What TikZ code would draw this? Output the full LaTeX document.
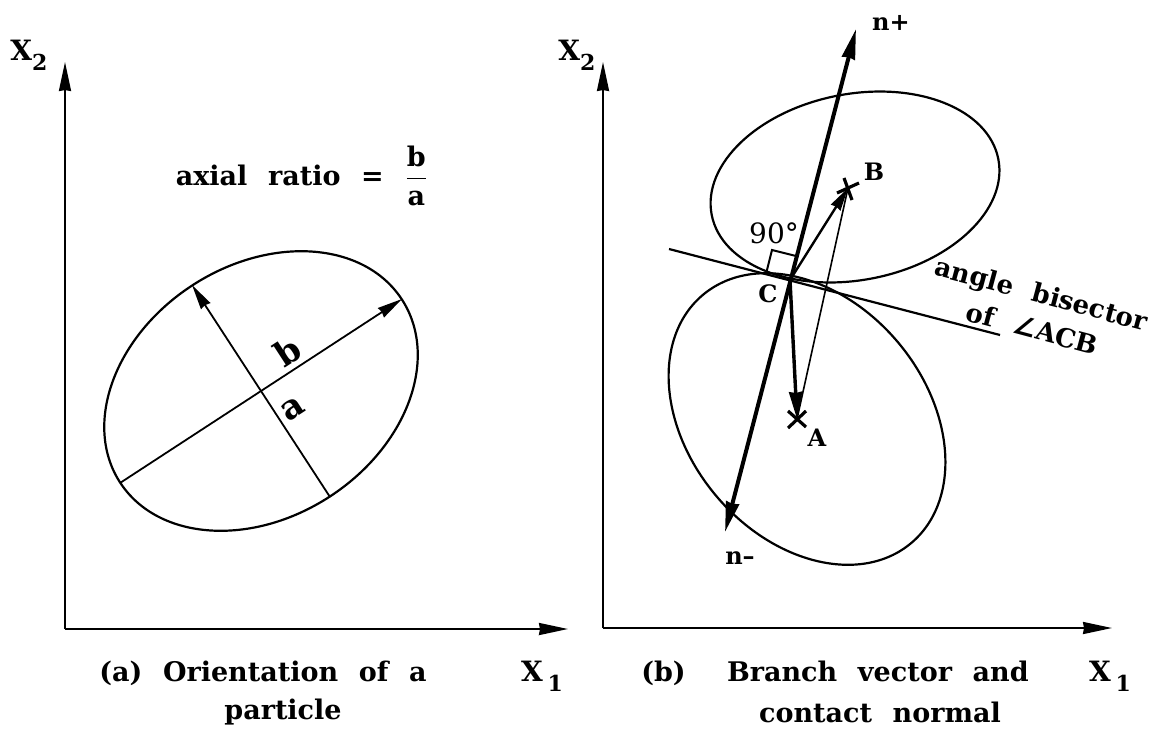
\documentclass[tikz,border=0pt]{standalone}
\usepackage{fontspec}
\usepackage{amsmath}
\usetikzlibrary{arrows.meta,calc}
\newfontfamily\figfont[WordSpace=2.2]{DejaVu Serif}
\newfontfamily\symfont{DejaVu Sans}

\begin{document}
\begin{tikzpicture}[x=0.5pt,y=-0.5pt,
  axis/.style={line width=1pt,-{Stealth[length=14.5pt,width=6pt,inset=0.5pt]}},
  grain/.style={line width=1.1pt},
  semiaxis/.style={line width=0.9pt,-{Stealth[length=12.5pt,width=5.5pt,inset=0.5pt]}},
  normal/.style={line width=2pt,
    {Stealth[length=15pt,width=6.5pt,inset=0.5pt]}-{Stealth[length=15pt,width=6.5pt,inset=0.5pt]}},
  toA/.style={line width=1.7pt,-{Stealth[length=13.5pt,width=6.5pt,inset=0.5pt]}},
  toB/.style={line width=1.2pt,-{Stealth[length=11.5pt,width=5.5pt,inset=0.5pt]}},
  thinline/.style={line width=0.8pt},
  crossmark/.style={line width=1.6pt},
  lbl/.style={inner sep=0pt,font=\figfont\bfseries\fontsize{13.5pt}{16pt}\selectfont},
  small/.style={inner sep=0pt,font=\figfont\bfseries\fontsize{12pt}{14pt}\selectfont},
  axlbl/.style={inner sep=0pt,font=\figfont\bfseries\fontsize{14pt}{16pt}\selectfont},
  semilbl/.style={inner sep=0pt,font=\figfont\bfseries\fontsize{17pt}{17pt}\selectfont}
]
\fill[white] (0,0) rectangle (1154,728);
\useasboundingbox (0,0) rectangle (1154,728);

% (a) orientation of a particle
\coordinate (oa) at (65,629);
\coordinate (ya) at (65,62);
\coordinate (xa) at (568,629);
\draw[axis] (oa) -- (ya);
\draw[axis] (oa) -- (xa);
\node[axlbl] (lblYa) at (29,55) {X\raisebox{-5pt}{\fontsize{11pt}{11pt}\selectfont 2}};
\node[axlbl] (lblXa) at (542,676) {X\,\raisebox{-5pt}{\fontsize{11pt}{11pt}\selectfont 1}};

\node[lbl] (ratio) at (302,176) {axial ratio = $\dfrac{\hbox{b}}{\hbox{a}}$};

\coordinate (pa) at (261,391);
\draw[grain, rotate around={33:(pa)}] (pa) ellipse [x radius=168, y radius=126];
\coordinate (maj1) at (120,483);
\coordinate (maj2) at (402,299);
\coordinate (min1) at (330,497);
\coordinate (min2) at (192,285);
\draw[semiaxis] (maj1) -- (maj2);
\draw[semiaxis] (min1) -- (min2);
\node[semilbl, rotate=33] (lblb) at (288,351) {b};
\node[semilbl, rotate=33] (lbla) at (293,409) {a};

\node[lbl] (capA1) at (263,673) {(a) Orientation of a};
\node[lbl] (capA2) at (283,712) {particle};

% (b) branch vector and contact normal
\coordinate (ob) at (603,628);
\coordinate (yb) at (603,62);
\coordinate (xb) at (1112,628);
\draw[axis] (ob) -- (yb);
\draw[axis] (ob) -- (xb);
\node[axlbl] (lblYb) at (577,55) {X\raisebox{-5pt}{\fontsize{11pt}{11pt}\selectfont 2}};
\node[axlbl] (lblXb) at (1110,676) {X\,\raisebox{-5pt}{\fontsize{11pt}{11pt}\selectfont 1}};

\coordinate (pA) at (807,419);
\coordinate (pB) at (855,187);
\draw[grain, rotate around={-50:(pA)}] (pA) ellipse [x radius=162, y radius=119];
\draw[grain, rotate around={11:(pB)}] (pB) ellipse [x radius=146, y radius=93];

\coordinate (C) at (790,280);
\coordinate (A) at (797,419);
\coordinate (B) at (848,188);
\coordinate (nm) at (725,532);
\coordinate (np) at (856,29);
\coordinate (bl) at (669,249);
\coordinate (br) at (1000,335);

\draw[grain] (bl) -- (br);
\draw[normal] (nm) -- (np);
\draw[thinline] (B) -- (A);
\draw[toA] (C) -- (A);
\draw[toB] (C) -- (B);
\draw[line width=1pt] (766,274) -- (772,250) -- (796,256);

\draw[crossmark] (A) ++(-9,-8) -- ++(18,16);
\draw[crossmark] (A) ++(-9,9) -- ++(18,-17);
\draw[crossmark] (B) ++(-11,5) -- ++(22,-10);
\draw[crossmark] (B) ++(-4,-10) -- ++(8,22);

\node[small] (lblnp) at (891,23) {n+};
\node[small] (lblnm) at (740,558) {n\textendash};
\node[small] (lblB) at (874,172) {B};
\node[small] (lblA) at (817,438) {A};
\node[small] (lblC) at (768,294) {C};
\node[inner sep=0pt,font=\figfont\fontsize{14pt}{16pt}\selectfont] (lbl90) at (774,233) {90\textdegree};
\node[inner sep=0pt, align=center, rotate=-15,
  font=\figfont\bfseries\fontsize{13pt}{18pt}\selectfont] (bisect) at (1037,311)
  {angle bisector\\of {\symfont\bfseries ∠}ACB\hspace{17pt}};

\node[lbl] (capB1) at (835,673) {(b)~ Branch vector and};
\node[lbl] (capB2) at (880,712) {contact normal};
\end{tikzpicture}
\end{document}
